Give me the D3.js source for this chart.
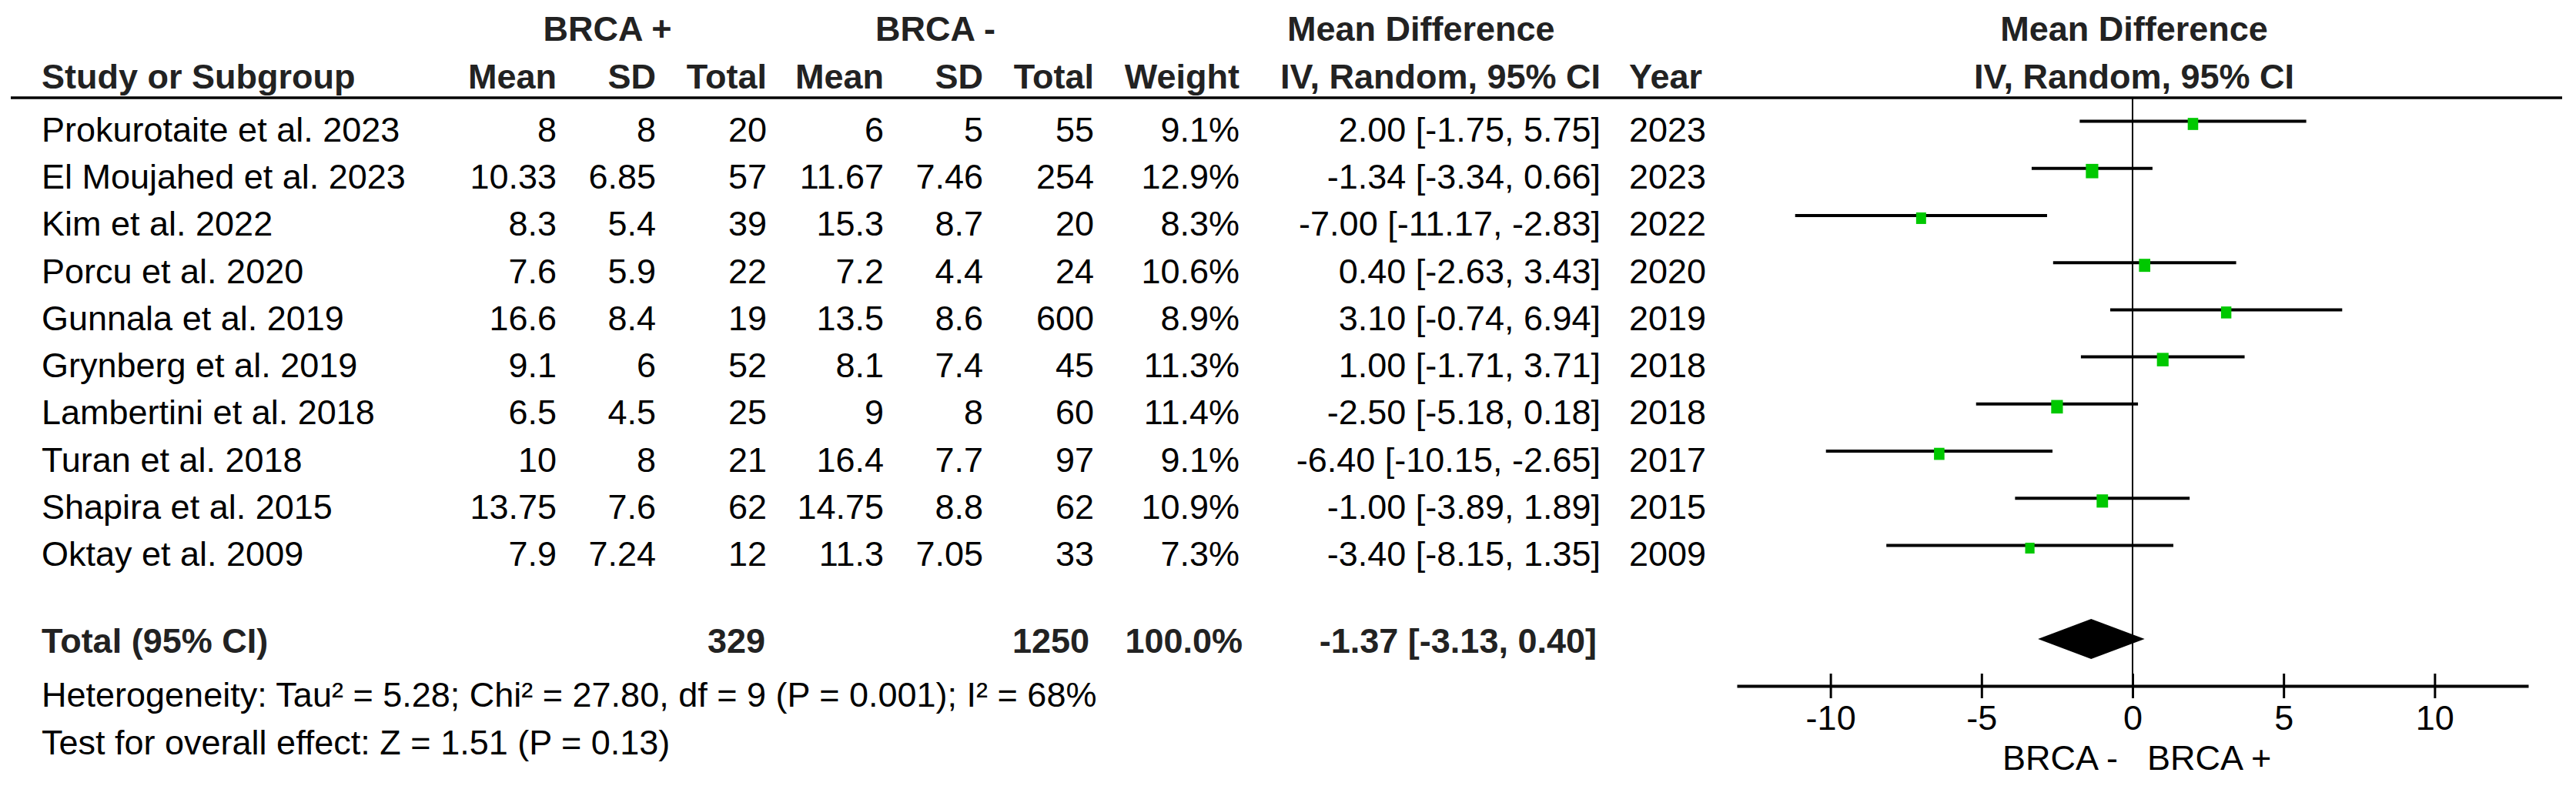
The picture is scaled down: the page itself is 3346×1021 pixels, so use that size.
<!DOCTYPE html>
<html>
<head>
<meta charset="utf-8">
<script src="https://cdn.jsdelivr.net/npm/d3@7"></script>
<style>
  body { margin: 0; background: #fff; }
  text { font-family: "Liberation Sans", Arial, sans-serif; font-size: 45px; fill: #000; }
  .b { font-weight: bold; fill: #222; }
</style>
</head>
<body>
<div id="chart"></div>
<script>
// Study data
const studies = ["Prokurotaite et al. 2023", "El Moujahed et al. 2023", "Kim et al. 2022", "Porcu et al. 2020",
  "Gunnala et al. 2019", "Grynberg et al. 2019", "Lambertini et al. 2018", "Turan et al. 2018",
  "Shapira et al. 2015", "Oktay et al. 2009"];
const meanPos = ["8", "10.33", "8.3", "7.6", "16.6", "9.1", "6.5", "10", "13.75", "7.9"];
const sdPos = ["8", "6.85", "5.4", "5.9", "8.4", "6", "4.5", "8", "7.6", "7.24"];
const totalPos = [20, 57, 39, 22, 19, 52, 25, 21, 62, 12];
const meanNeg = ["6", "11.67", "15.3", "7.2", "13.5", "8.1", "9", "16.4", "14.75", "11.3"];
const sdNeg = ["5", "7.46", "8.7", "4.4", "8.6", "7.4", "8", "7.7", "8.8", "7.05"];
const totalNeg = [55, 254, 20, 24, 600, 45, 60, 97, 62, 33];
const weights = [9.1, 12.9, 8.3, 10.6, 8.9, 11.3, 11.4, 9.1, 10.9, 7.3];
const md = [2.00, -1.34, -7.00, 0.40, 3.10, 1.00, -2.50, -6.40, -1.00, -3.40];
const ciLow = [-1.75, -3.34, -11.17, -2.63, -0.74, -1.71, -5.18, -10.15, -3.89, -8.15];
const ciHigh = [5.75, 0.66, -2.83, 3.43, 6.94, 3.71, 0.18, -2.65, 1.89, 1.35];
const years = [2023, 2023, 2022, 2020, 2019, 2018, 2018, 2017, 2015, 2009];

// Pooled estimate
const total = { nPos: 329, nNeg: 1250, weight: "100.0%", md: -1.37, low: -3.13, high: 0.40 };
const heterogeneity = "Heterogeneity: Tau² = 5.28; Chi² = 27.80, df = 9 (P = 0.001); I² = 68%";
const overall = "Test for overall effect: Z = 1.51 (P = 0.13)";
const axisTicks = [-10, -5, 0, 5, 10];

const width = 3346, height = 1021;

const svg = d3.select("#chart").append("svg")
  .attr("width", width)
  .attr("height", height);

svg.append("rect").attr("width", width).attr("height", height).attr("fill", "#fff");

// Row positions (text baselines)
const y = d3.scaleLinear().domain([0, studies.length - 1]).range([184, 735]);
const totalY = 848;

// Forest plot scale
const x = d3.scaleLinear().domain([-13.1, 13.1]).range([2256, 3284]);
const axisY = 891;

// Column anchors (right aligned)
const cols = [
  { head: "Mean", x: 723, vals: meanPos },
  { head: "SD", x: 852, vals: sdPos },
  { head: "Total", x: 996, vals: totalPos },
  { head: "Mean", x: 1148, vals: meanNeg },
  { head: "SD", x: 1277, vals: sdNeg },
  { head: "Total", x: 1421, vals: totalNeg },
  { head: "Weight", x: 1610, vals: weights.map(w => w.toFixed(1) + "%") },
  { head: "IV, Random, 95% CI", x: 2079, vals: md.map((m, i) => `${m.toFixed(2)} [${ciLow[i].toFixed(2)}, ${ciHigh[i].toFixed(2)}]`) }
];

// Headers
svg.append("text").attr("class", "b").attr("x", 789).attr("y", 53).attr("text-anchor", "middle").text("BRCA +");
svg.append("text").attr("class", "b").attr("x", 1215).attr("y", 53).attr("text-anchor", "middle").text("BRCA -");
svg.append("text").attr("class", "b").attr("x", 1672).attr("y", 53).text("Mean Difference");
svg.append("text").attr("class", "b").attr("x", 2772).attr("y", 53).attr("text-anchor", "middle").text("Mean Difference");
svg.append("text").attr("class", "b").attr("x", 2772).attr("y", 115).attr("text-anchor", "middle").text("IV, Random, 95% CI");
svg.append("text").attr("class", "b").attr("x", 54).attr("y", 115).text("Study or Subgroup");
svg.append("text").attr("class", "b").attr("x", 2116).attr("y", 115).text("Year");

cols.forEach(c => {
  svg.append("text").attr("class", "b").attr("x", c.x).attr("y", 115)
    .attr("text-anchor", "end").text(c.head);
  svg.append("g").selectAll("text")
    .data(c.vals)
    .enter()
    .append("text")
    .attr("x", c.x)
    .attr("y", (d, i) => y(i))
    .attr("text-anchor", "end")
    .text(d => d);
});

// Header rule
svg.append("line")
  .attr("x1", 14).attr("x2", 3328)
  .attr("y1", 127).attr("y2", 127)
  .attr("stroke", "#000").attr("stroke-width", 3.5);

// Study names and years
svg.append("g").selectAll("text")
  .data(studies)
  .enter()
  .append("text")
  .attr("x", 54)
  .attr("y", (d, i) => y(i))
  .text(d => d);

svg.append("g").selectAll("text")
  .data(years)
  .enter()
  .append("text")
  .attr("x", 2116)
  .attr("y", (d, i) => y(i))
  .text(d => d);

// Total row
svg.append("text").attr("class", "b").attr("x", 54).attr("y", totalY).text("Total (95% CI)");
svg.append("text").attr("class", "b").attr("x", 994).attr("y", totalY).attr("text-anchor", "end").text(total.nPos);
svg.append("text").attr("class", "b").attr("x", 1415).attr("y", totalY).attr("text-anchor", "end").text(total.nNeg);
svg.append("text").attr("class", "b").attr("x", 1614).attr("y", totalY).attr("text-anchor", "end").text(total.weight);
svg.append("text").attr("class", "b").attr("x", 2074).attr("y", totalY).attr("text-anchor", "end")
  .text(`${total.md.toFixed(2)} [${total.low.toFixed(2)}, ${total.high.toFixed(2)}]`);

svg.append("text").attr("x", 54).attr("y", 918).text(heterogeneity);
svg.append("text").attr("x", 54).attr("y", 980).text(overall);

// Zero line
svg.append("line")
  .attr("x1", x(0)).attr("x2", x(0))
  .attr("y1", 128).attr("y2", axisY)
  .attr("stroke", "#000").attr("stroke-width", 2);

// CI lines
svg.append("g").selectAll("line")
  .data(md)
  .enter()
  .append("line")
  .attr("x1", (d, i) => x(ciLow[i]))
  .attr("x2", (d, i) => x(ciHigh[i]))
  .attr("y1", (d, i) => y(i) - 26.5)
  .attr("y2", (d, i) => y(i) - 26.5)
  .attr("stroke", "#000").attr("stroke-width", 4);

// Weighted squares
const boxW = d3.scaleSqrt().domain([0, 100]).range([0, 45]);
const boxH = d3.scaleSqrt().domain([0, 100]).range([0, 52]);
svg.append("g").selectAll("rect")
  .data(md)
  .enter()
  .append("rect")
  .attr("x", (d, i) => x(d) - boxW(weights[i]) / 2)
  .attr("y", (d, i) => y(i) - 23 - boxH(weights[i]) / 2)
  .attr("width", (d, i) => boxW(weights[i]))
  .attr("height", (d, i) => boxH(weights[i]))
  .attr("fill", "#00c800");

// Pooled diamond
const dy = 830;
svg.append("path")
  .attr("d", `M${x(total.low)},${dy} L${x(total.md)},${dy - 26} L${x(total.high)},${dy} L${x(total.md)},${dy + 26} Z`)
  .attr("fill", "#000");

// Axis
const axis = svg.append("g")
  .attr("transform", `translate(0,${axisY})`)
  .call(d3.axisBottom(x).tickValues(axisTicks).tickSize(16).tickSizeOuter(0).tickFormat(d3.format("d")));
axis.select(".domain").attr("stroke", "#000").attr("stroke-width", 4);
axis.selectAll(".tick line").attr("y1", -16).attr("stroke", "#000").attr("stroke-width", 3);
axis.selectAll(".tick text")
  .attr("y", 57).attr("dy", null)
  .style("font-family", "'Liberation Sans', Arial, sans-serif")
  .style("font-size", "45px")
  .attr("fill", "#000")
  .text(d => d < 0 ? "-" + Math.abs(d) : d);

// Favours labels
svg.append("text").attr("x", x(0) - 19).attr("y", 1000).attr("text-anchor", "end").text("BRCA -");
svg.append("text").attr("x", x(0) + 19).attr("y", 1000).text("BRCA +");
</script>
</body>
</html>
